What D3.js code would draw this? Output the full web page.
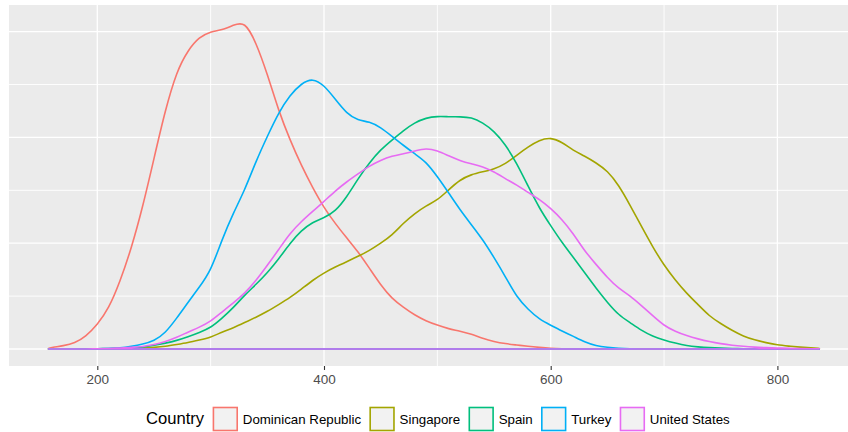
<!DOCTYPE html>
<html>
<head>
<meta charset="utf-8">
<script src="https://cdn.jsdelivr.net/npm/d3@7"></script>
<style>
  body { margin: 0; background: #fff; }
  svg { display: block; font-family: "Liberation Sans", Arial, sans-serif; }
</style>
</head>
<body>
<div id="chart"></div>
<script>
// score grid (x) shared by every country
var scores = [157,160,170,180,190,200,210,220,230,240,250,260,270,280,290,300,310,320,330,340,350,360,370,380,390,400,410,420,430,440,450,460,470,480,490,500,510,520,530,540,550,560,570,580,590,600,610,620,630,640,650,660,670,680,690,700,710,720,730,740,750,760,770,780,790,800,810,820,830,837];

// density values, in units of 0.001
var dominicanRepublic = [0.01,0.03,0.06,0.11,0.24,0.46,0.76,1.27,1.90,2.68,3.60,4.52,5.25,5.65,5.90,6.00,6.03,6.12,6.20,5.80,5.20,4.50,3.95,3.47,3.05,2.67,2.37,2.10,1.84,1.53,1.21,0.95,0.79,0.64,0.53,0.45,0.38,0.34,0.28,0.20,0.14,0.10,0.076,0.05,0.03,0.013,0.005,0,0,0,0,0,0,0,0,0,0,0,0,0,0,0,0,0,0,0,0,0,0,0];
var singapore = [0,0,0,0,0,0,0.003,0.005,0.01,0.015,0.03,0.05,0.085,0.12,0.17,0.22,0.32,0.40,0.50,0.60,0.71,0.84,0.97,1.13,1.30,1.44,1.55,1.65,1.75,1.86,2.00,2.15,2.38,2.56,2.71,2.81,3.01,3.20,3.30,3.35,3.40,3.50,3.66,3.82,3.95,4.00,3.91,3.75,3.65,3.52,3.37,3.10,2.72,2.32,1.93,1.58,1.30,1.05,0.84,0.62,0.48,0.35,0.24,0.17,0.12,0.075,0.055,0.035,0.02,0.01];
var spain = [0,0,0,0,0,0.005,0.01,0.015,0.02,0.035,0.07,0.11,0.16,0.23,0.31,0.40,0.58,0.78,1.02,1.22,1.44,1.70,2.00,2.24,2.40,2.48,2.60,2.87,3.22,3.52,3.77,3.95,4.13,4.28,4.37,4.40,4.39,4.39,4.38,4.28,4.12,3.87,3.51,3.08,2.66,2.33,2.01,1.73,1.44,1.15,0.88,0.64,0.50,0.35,0.24,0.17,0.11,0.06,0.04,0.025,0.015,0.01,0.005,0,0,0,0,0,0,0];
var turkey = [0,0,0,0,0,0.005,0.01,0.02,0.05,0.09,0.15,0.30,0.58,0.88,1.17,1.47,2.07,2.57,3.00,3.55,4.02,4.47,4.80,5.02,5.12,4.99,4.72,4.45,4.32,4.30,4.19,4.02,3.85,3.69,3.54,3.26,2.95,2.63,2.35,2.07,1.73,1.37,0.98,0.75,0.56,0.45,0.34,0.24,0.13,0.06,0.03,0.01,0,0,0,0,0,0,0,0,0,0,0,0,0,0,0,0,0,0];
var unitedStates = [0,0,0,0,0,0.005,0.01,0.02,0.03,0.045,0.08,0.14,0.22,0.32,0.41,0.52,0.70,0.87,1.05,1.29,1.58,1.88,2.19,2.41,2.60,2.79,2.99,3.16,3.31,3.46,3.57,3.65,3.69,3.74,3.80,3.75,3.65,3.56,3.50,3.45,3.35,3.22,3.10,2.96,2.83,2.66,2.45,2.18,1.85,1.60,1.35,1.14,1.01,0.82,0.63,0.44,0.33,0.25,0.19,0.14,0.10,0.07,0.05,0.035,0.025,0.018,0.012,0.008,0.005,0.003];

var countries = ["Dominican Republic", "Singapore", "Spain", "Turkey", "United States"];
var seriesValues = [dominicanRepublic, singapore, spain, turkey, unitedStates];
var colors = ["#F8766D", "#A3A500", "#00BF7D", "#00B0F6", "#E76BF3"];
var xTicks = [200, 400, 600, 800];

var w = 848;
var h = 432;
var panel = {left: 9, top: 5, right: 848, bottom: 366};

var svg = d3.select("#chart")
    .append("svg")
    .attr("width", w)
    .attr("height", h);

var xScale = d3.scaleLinear()
    .domain([200, 800])
    .range([97.3, 777.4]);

// 0.001 density per 52.9 px, zero sits 17 px above the panel bottom
var yScale = d3.scaleLinear()
    .domain([0, 1])
    .range([349, 296.1]);

// panel background
svg.append("rect")
    .attr("x", panel.left)
    .attr("y", panel.top)
    .attr("width", panel.right - panel.left)
    .attr("height", panel.bottom - panel.top)
    .attr("fill", "#EBEBEB");

// grid lines
var gridX = d3.range(200, 801, 100);
var gridY = d3.range(0, 6.5, 1);

svg.append("g").selectAll("line")
    .data(gridX)
    .enter()
    .append("line")
    .attr("x1", function(d) { return xScale(d); })
    .attr("x2", function(d) { return xScale(d); })
    .attr("y1", panel.top)
    .attr("y2", panel.bottom)
    .attr("stroke", "white")
    .attr("stroke-width", function(d) { return d % 200 === 0 ? 1.3 : 0.9; });

svg.append("g").selectAll("line")
    .data(gridY)
    .enter()
    .append("line")
    .attr("x1", panel.left)
    .attr("x2", panel.right)
    .attr("y1", function(d) { return yScale(d); })
    .attr("y2", function(d) { return yScale(d); })
    .attr("stroke", "white")
    .attr("stroke-width", function(d) { return d % 2 === 0 ? 1.3 : 0.9; });

// density outlines (closed, like ggplot's geom_density polygon)
var area = d3.area()
    .x(function(d, i) { return xScale(scores[i]); })
    .y0(yScale(0))
    .y1(function(d) { return yScale(d); })
    .curve(d3.curveBasis);

svg.append("g").selectAll("path")
    .data(seriesValues)
    .enter()
    .append("path")
    .attr("d", function(d) { return area(d); })
    .attr("fill", "none")
    .attr("stroke", function(d, i) { return colors[i]; })
    .attr("stroke-width", 1.6)
    .attr("stroke-linejoin", "round");

// x axis
var xAxis = d3.axisBottom(xScale)
    .tickValues(xTicks)
    .tickSize(4)
    .tickPadding(4)
    .tickFormat(d3.format("d"));

var gx = svg.append("g")
    .attr("transform", "translate(0," + panel.bottom + ")")
    .call(xAxis);

gx.select(".domain").remove();
gx.selectAll(".tick line")
    .attr("stroke", "#333333")
    .attr("stroke-width", 1.1);
gx.selectAll(".tick text")
    .attr("fill", "#4D4D4D")
    .attr("font-size", "13.5px")
    .attr("font-family", "Liberation Sans, Arial, sans-serif");

// legend
var legend = svg.append("g");
var legendBase = 424.3;

var title = legend.append("text")
    .attr("x", 146)
    .attr("y", 423.6)
    .attr("font-size", "16.6px")
    .attr("fill", "black")
    .text("Country");

var cursor = 146 + title.node().getComputedTextLength() + 8.5;

countries.forEach(function(c, i) {
    legend.append("rect")
        .attr("x", cursor + 0.8)
        .attr("y", 407.5)
        .attr("width", 23.8)
        .attr("height", 23)
        .attr("fill", "#F2F2F2")
        .attr("stroke", colors[i])
        .attr("stroke-width", 1.6);
    var t = legend.append("text")
        .attr("x", cursor + 30.2)
        .attr("y", legendBase)
        .attr("font-size", "13.3px")
        .attr("fill", "black")
        .text(c);
    cursor = cursor + 30.2 + t.node().getComputedTextLength() + 8.3;
});
</script>
</body>
</html>
